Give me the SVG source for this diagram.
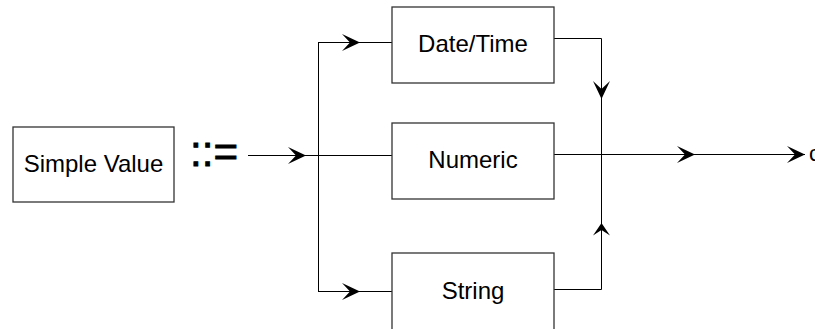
<svg xmlns="http://www.w3.org/2000/svg" xmlns:xlink="http://www.w3.org/1999/xlink" width="815" height="329" viewBox="0 0 815 329">
<style>
.box{fill:#fff;stroke:#333;stroke-width:1.3}
.lbl{font-family:"Liberation Sans",Arial,sans-serif;font-size:24px;fill:#000;text-anchor:middle}
.ln{fill:none;stroke:#000;stroke-width:1}
.ah{fill:#000}
</style>
<defs>
<path id="ah" class="ah" d="M0,0 L-18,-8.5 L-10,0 L-18,8.5 Z"/>
</defs>
<rect width="815" height="329" fill="#fff"/>
<g id="connectors">
<path class="ln" d="M248,155.5 H392"/>
<path class="ln" d="M318.5,42.5 V291.5 M318,42.5 H392 M318,291.5 H392"/>
<path class="ln" d="M554,38.5 H601.5 V289.5 H554"/>
<path class="ln" d="M554,154.5 H805"/>
<use xlink:href="#ah" transform="translate(306,155.5)"/>
<use xlink:href="#ah" transform="translate(360,42.5)"/>
<use xlink:href="#ah" transform="translate(360,291.5)"/>
<use xlink:href="#ah" transform="translate(695,154.5)"/>
<use xlink:href="#ah" transform="translate(805,154.5)"/>
<use xlink:href="#ah" transform="translate(601.5,99) rotate(90)"/>
<use xlink:href="#ah" transform="translate(601.5,223) rotate(-90) scale(0.7,1)"/>
</g>
<g id="simple-value">
<rect class="box" x="13" y="127" width="161" height="75"/>
<text class="lbl" x="93.5" y="172">Simple Value</text>
</g>
<g id="defines">
<text x="190" y="166" textLength="48" lengthAdjust="spacingAndGlyphs" style="font-family:'Liberation Sans',Arial,sans-serif;font-size:42px;stroke:#000;stroke-width:0.8">::=</text>
</g>
<g id="datetime">
<rect class="box" x="392" y="7" width="162" height="76"/>
<text class="lbl" x="473" y="52">Date/Time</text>
</g>
<g id="numeric">
<rect class="box" x="392" y="123" width="162" height="76"/>
<text class="lbl" x="473" y="168">Numeric</text>
</g>
<g id="string">
<rect class="box" x="392" y="253" width="162" height="90"/>
<text class="lbl" x="473" y="299">String</text>
</g>
<g id="out">
<text x="809" y="161" style="font-family:'Liberation Sans',Arial,sans-serif;font-size:22px">c</text>
</g>
</svg>
